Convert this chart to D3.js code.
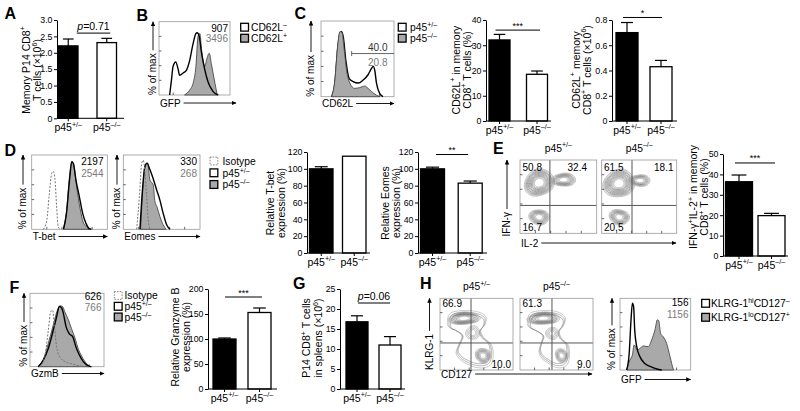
<!DOCTYPE html>
<html><head><meta charset="utf-8">
<script src="https://cdn.jsdelivr.net/npm/d3@7"></script>
<style>body{margin:0;background:#fff}svg{display:block}</style>
</head><body><svg id="c" width="800" height="411"></svg>
<script>
// ---------------- DATA ----------------
const groups = ["p45+/–", "p45–/–"];
// bar charts
const memP14Vals = [2.21, 2.31], memP14Errs = [0.21, 0.13];
const cd62lPctVals = [32.1, 18.5], cd62lPctErrs = [2.2, 1.3];
const cd62lNumVals = [0.70, 0.43], cd62lNumErrs = [0.08, 0.05];
const tbetVals = [100, 115], tbetErrs = [2.5, 0];
const eomesVals = [100, 83], eomesErrs = [2, 2.5];
const ifnIl2Vals = [36.4, 19.8], ifnIl2Errs = [3.3, 1.1];
const gzmbVals = [100, 153], gzmbErrs = [2, 9];
const p14SpleenVals = [16.8, 11.0], p14SpleenErrs = [1.5, 2.1];
// tick labels
const aTicks = [0, 0.5, 1, 1.5, 2, 2.5, 3];
const c1Ticks = [0, 10, 20, 30, 40];
const c2Ticks = [0, 0.2, 0.4, 0.6, 0.8];
const dTicks = [0, 20, 40, 60, 80, 100, 120];
const eTicks = [0, 10, 20, 30, 40, 50];
const fTicks = [0, 50, 100, 150, 200];
const gTicks = [0, 5, 10, 15, 20, 25];
// significance
const sigA = {v: 2.6, text: "*{p}=0.71"};
const sigC1 = {v: 36, text: "***"};
const sigC2 = {v: 0.82, text: "*"};
const sigD2 = {v: 117, text: "**"};
const sigE = {v: 45.6, text: "***"};
const sigF = {v: 184, text: "***"};
const sigG = {v: 21.5, text: "*{p}=0.06"};
// histograms: [channel (0-100), % of max]
const bNeg = [[15,0],[17.5,20],[19.8,39],[23.6,45],[27,35],[29,27],[34,30],[38.7,34],[43.4,48],[48,70],[52,84],[53.8,85],[56.6,80],[60,57],[64.6,34],[69,18],[76,5],[83.5,0]];
const bPos = [[36,0],[43.4,7],[48,16],[52,39],[55,80],[57.5,84],[60,61],[64.6,39],[67,48],[70.8,57],[74,41],[78.8,16],[82,0]];
const cHet = [[14.5,0],[19,18],[22.7,62],[26,84],[28,86],[30.5,79],[34,48],[38.6,24],[44,20],[51,18],[57.7,22],[64.5,29],[69,37],[71.4,40],[73.6,35],[76,18],[80.5,4],[85,0]];
const cKo = [[14.5,0],[19,22],[22.7,66],[26,86],[29,84],[31.8,62],[35,35],[39.5,18],[46,11],[53,12],[60,14],[64.5,11],[69,7],[76,2],[80.5,0]];
const tbetIso = [[15.4,0],[20,12.5],[23,44],[26.4,75],[28.6,78],[30.8,67],[33,30],[35,4],[37.4,0]];
const tbetHet = [[42,0],[46,21.5],[50,66],[53,91],[55,89],[58.6,66],[63,44],[67.4,21.5],[71.8,8],[76,1],[79,0]];
const tbetKo = [[42,0],[46,24],[50,71],[53,91],[56,84],[59.5,57],[64,28],[68,10],[72.7,3],[76,0]];
const eomesIso = [[17.4,0],[21,44],[24,89],[26,93],[28,80],[30.4,44],[32.6,12.5],[34.8,0]];
const eomesHet = [[21.7,0],[25,53],[28,84],[31,89],[34.8,80],[38,71],[43.5,53],[47.8,39],[52,21.5],[56.5,6],[61,0]];
const eomesKo = [[22.6,0],[26,62],[29,87],[31.7,89],[34.8,66],[39,60],[41,39],[44,30],[47.8,17],[52,6],[55.7,0]];
const gzmbIso = [[13.5,0],[20,14],[24.8,50],[28,75],[30.6,77],[33,55],[36,27],[40.5,13],[47,7],[56,4],[67.6,1],[74,0]];
const gzmbHet = [[11,0],[18,9],[24.8,25],[31.5,50],[36,68],[39.6,82],[42.8,80],[45,73],[48.6,55],[53,45],[57.7,41],[62,27],[66.7,16],[72,7],[79,1],[83,0]];
const gzmbKo = [[11,0],[18,10],[24.8,32],[31.5,57],[37,77],[40.5,83],[44,82],[47,75],[51.8,64],[56,52],[60.8,39],[65,25],[70,14],[75.7,5],[81,0]];
const hGfpHi = [[9.4,0],[13,23],[15.6,70],[17.5,93],[19.3,88],[20.8,56],[23.6,33],[28,19],[35,9],[42.5,5],[52,1.4],[59,0]];
const hGfpLo = [[9.4,0],[14,14],[17.5,21],[20,35],[24.5,28],[28,30],[33,33.5],[40,32.6],[44.8,42],[49.5,56],[52.8,70],[54.7,69],[57.5,51],[61,46.5],[66,37],[70.8,18.6],[75.5,1],[76,0]];
// MFI labels
const bMfi = ["907", "3496"], cGate = ["40.0", "20.8"], tbetMfi = ["2197", "2544"], eomesMfi = ["330", "268"], gzmbMfi = ["626", "766"], hMfi = ["156", "1156"];
// quadrant percentages
const eHetQ = ["50.8", "32.4", "16.7"], eKoQ = ["61.5", "18.1", "20.5"];
const hHetQ = ["66.9", "10.0"], hKoQ = ["61.3", "9.0"];
// contour populations (data units 0-100)
const eHetPops = [{cx:25,cy:69,rx:19,ry:19,n:11,ph:0.4},{cx:57,cy:73,rx:15,ry:9.5,n:8,ph:1.3},{cx:25,cy:22,rx:12.5,ry:11,n:8,ph:2.1}];
const eKoPops = [{cx:23,cy:68,rx:20,ry:20,n:11,ph:0.9},{cx:51,cy:72,rx:13,ry:8.5,n:7,ph:1.7},{cx:23.5,cy:22,rx:13,ry:11,n:8,ph:2.6}];
const hHetOutline = [[10,68],[13,78],[22,82],[40,83],[55,80],[63,74],[62,64],[56,55],[60,45],[70,36],[73,22],[70,8],[60,3],[48,4],[38,8],[28,14],[22,24],[26,36],[30,48],[20,56],[12,60]];
const hKoOutline = [[10,67],[13,78],[22,82],[40,83],[54,80],[62,73],[60,63],[54,54],[57,44],[66,35],[68,22],[65,8],[56,3],[46,5],[38,10],[30,16],[26,26],[29,38],[31,48],[20,56],[12,60]];
const hHetPops = [{cx:33,cy:72,rx:21,ry:9,n:9,ph:0.5},{cx:45,cy:52,rx:9,ry:10,n:4,ph:1.1},{cx:59,cy:20,rx:10,ry:11,n:7,ph:2.3}];
const hKoPops = [{cx:32,cy:72,rx:21,ry:9,n:9,ph:0.8},{cx:44,cy:51,rx:8,ry:9,n:4,ph:1.6},{cx:57,cy:20,rx:8.5,ry:10,n:6,ph:2.8}];

// ---------------- HELPERS ----------------
const svg = d3.select('#c');
const FF = '"Liberation Sans", Arial, Helvetica, sans-serif';
const defs = svg.append('defs');
defs.append('marker').attr('id','arr').attr('viewBox','0 0 10 10').attr('refX',9).attr('refY',5)
  .attr('markerWidth',5).attr('markerHeight',5).attr('markerUnits','userSpaceOnUse').attr('orient','auto')
  .append('path').attr('d','M0,0.5 L10,5 L0,9.5 Z').attr('fill','#000');

function rich(t, str, fs) {
  const parts = str.split(/(\^\{[^}]*\}|\*\{[^}]*\})/).filter(s => s.length);
  let up = false; const sh = fs * 0.4;
  parts.forEach(p => {
    if (p.startsWith('^{')) {
      const ts = t.append('tspan').attr('font-size', fs * 0.68).text(p.slice(2, -1));
      if (!up) { ts.attr('dy', -sh); up = true; }
    } else {
      const it = p.startsWith('*{');
      const ts = t.append('tspan').text(it ? p.slice(2, -1) : p);
      if (it) ts.attr('font-style', 'italic');
      if (up) { ts.attr('dy', sh); up = false; }
    }
  });
  return t;
}
function txt(x, y, str, fs, o = {}) {
  const t = svg.append('text').attr('x', x).attr('y', y).attr('font-size', fs).attr('font-family', FF).attr('fill', o.fill || '#000');
  if (o.anchor) t.attr('text-anchor', o.anchor);
  if (o.weight) t.attr('font-weight', o.weight);
  if (o.rotate != null) t.attr('transform', `rotate(${o.rotate},${x},${y})`);
  return rich(t, str, fs);
}
const grpLabel = g => g.slice(0, 3) + '^{' + g.slice(3) + '}';
const fmt1 = d => d === 0 ? '0' : d3.format('.1f')(d);

function barPanel(c) {
  const y = d3.scaleLinear().domain([0, c.max]).range([c.y0, c.y1]);
  const x = d3.scaleBand().domain(groups).range([c.L, c.L + c.step + c.w]).paddingInner(1 - c.w / c.step).paddingOuter(0);
  const g = svg.append('g');
  const ax = g.append('g').attr('transform', `translate(${c.x0},0)`)
    .call(d3.axisLeft(y).tickValues(c.ticks).tickFormat(c.fmt || (d => d)).tickSize(3).tickSizeOuter(0));
  ax.attr('font-size', 8.8).attr('font-family', FF);
  ax.select('.domain').attr('stroke-width', 1);
  ax.selectAll('.tick text').attr('x', -4.5);
  const cx = i => x(groups[i]) + x.bandwidth() / 2;
  g.selectAll('rect.bar').data(c.vals).join('rect').attr('class', 'bar')
    .attr('x', (d, i) => x(groups[i])).attr('y', d => y(d)).attr('width', x.bandwidth()).attr('height', d => c.y0 - y(d))
    .attr('fill', (d, i) => i ? '#fff' : '#000').attr('stroke', '#000').attr('stroke-width', 1.3);
  c.vals.forEach((v, i) => {
    const e = c.errs[i]; if (!e) return;
    const cap = x.bandwidth() * 0.55;
    g.append('line').attr('x1', cx(i)).attr('x2', cx(i)).attr('y1', y(v)).attr('y2', y(v + e)).attr('stroke', '#000').attr('stroke-width', 1.2);
    g.append('line').attr('x1', cx(i) - cap / 2).attr('x2', cx(i) + cap / 2).attr('y1', y(v + e)).attr('y2', y(v + e)).attr('stroke', '#000').attr('stroke-width', 1.2);
  });
  g.append('line').attr('x1', c.x0).attr('x2', c.xEnd).attr('y1', c.y0).attr('y2', c.y0).attr('stroke', '#000').attr('stroke-width', 1);
  groups.forEach((gr, i) => {
    g.append('line').attr('x1', cx(i)).attr('x2', cx(i)).attr('y1', c.y0).attr('y2', c.y0 + 3).attr('stroke', '#000');
    txt(cx(i), c.y0 + 12.5, grpLabel(gr), 10.5, {anchor: 'middle'});
  });
  if (c.sig) {
    const sy = y(c.sig.v), x1 = cx(0) + c.so[0], x2 = cx(1) + c.so[1];
    g.append('line').attr('x1', x1).attr('x2', x2).attr('y1', sy).attr('y2', sy).attr('stroke', '#000').attr('stroke-width', 1);
    const isStar = c.sig.text.startsWith('**') || c.sig.text === '*';
    txt((x1 + x2) / 2, sy - (isStar ? 1.5 : 3.5), c.sig.text, isStar ? 9 : 10.5, {anchor: 'middle'});
  }
  c.yl.forEach((s, i) => txt(c.ylx[i] + 3.6, c.ylY, s, 10.5, {anchor: 'middle', rotate: -90}));
}

function frame(b, x, y) {
  svg.append('rect').attr('x', b[0]).attr('y', b[2]).attr('width', b[1] - b[0]).attr('height', b[3] - b[2])
    .attr('fill', 'none').attr('stroke', '#999').attr('stroke-width', 0.8);
  [20, 40, 60, 80].forEach(v => {
    svg.append('line').attr('x1', b[0]).attr('x2', b[0] + 2.5).attr('y1', y(v)).attr('y2', y(v)).attr('stroke', '#444').attr('stroke-width', 0.8);
    svg.append('line').attr('x1', x(v)).attr('x2', x(v)).attr('y1', b[3]).attr('y2', b[3] - 2.5).attr('stroke', '#444').attr('stroke-width', 0.8);
  });
}
function arrowLabels(c) {
  const yt = txt(c.yLabX + 3.4, c.yStart, c.yLabel, 10, {rotate: -90});
  const len = yt.node().getComputedTextLength();
  svg.append('line').attr('x1', c.yLabX).attr('x2', c.yLabX).attr('y1', c.yStart - len - 3).attr('y2', c.yEnd)
    .attr('stroke', '#000').attr('stroke-width', 0.9).attr('marker-end', 'url(#arr)');
  const xt = txt(c.xStart, c.xLabY, c.xLabel, 10);
  const lx = xt.node().getComputedTextLength();
  svg.append('line').attr('x1', c.xStart + lx + 3).attr('x2', c.xEnd).attr('y1', c.xLabY - 3.5).attr('y2', c.xLabY - 3.5)
    .attr('stroke', '#000').attr('stroke-width', 0.9).attr('marker-end', 'url(#arr)');
}
function histPanel(c) {
  const b = c.box;
  const x = d3.scaleLinear().domain([0, 100]).range([b[0], b[1]]);
  const y = d3.scaleLinear().domain([0, 100]).range([b[3], b[2]]);
  frame(b, x, y);
  const line = d3.line().x(d => x(d[0])).y(d => y(d[1])).curve(d3.curveMonotoneX);
  const area = d3.area().x(d => x(d[0])).y0(b[3]).y1(d => y(d[1])).curve(d3.curveMonotoneX);
  c.curves.forEach(cv => {
    if (cv.type === 'fill') svg.append('path').attr('d', area(cv.data)).attr('fill', '#a9a9a9').attr('stroke', '#4a4a4a').attr('stroke-width', 0.9);
    else if (cv.type === 'open') svg.append('path').attr('d', line(cv.data)).attr('fill', 'none').attr('stroke', '#000').attr('stroke-width', 1.4);
    else svg.append('path').attr('d', line(cv.data)).attr('fill', 'none').attr('stroke', '#777').attr('stroke-width', 1).attr('stroke-dasharray', '2,1.5');
  });
  if (c.gate) {
    const gy = y(c.gate.v);
    svg.append('line').attr('x1', x(c.gate.x1)).attr('x2', x(c.gate.x2)).attr('y1', gy).attr('y2', gy).attr('stroke', '#555').attr('stroke-width', 0.9);
    svg.append('line').attr('x1', x(c.gate.x1)).attr('x2', x(c.gate.x1)).attr('y1', gy - 2.5).attr('y2', gy + 2.5).attr('stroke', '#555').attr('stroke-width', 0.9);
  }
  c.nums.forEach((n, i) => txt(c.numX, c.numY[i], n, 10, {anchor: 'end', fill: c.numFill ? c.numFill[i] : (i ? '#7a7a7a' : '#000')}));
  arrowLabels({yLabX: c.yLabX, yStart: b[3], yEnd: b[2], yLabel: '% of max', xStart: b[0] + 1, xLabY: c.xLabY, xLabel: c.xLabel, xEnd: c.xEnd || b[1]});
}
function legend(x, centers, items, tx) {
  items.forEach((it, i) => {
    const r = svg.append('rect').attr('x', x).attr('y', centers[i] - 3.9).attr('width', 7.8).attr('height', 7.8);
    if (it.type === 'dash') r.attr('fill', '#fff').attr('stroke', '#777').attr('stroke-width', 0.9).attr('stroke-dasharray', '1.5,1.2');
    else r.attr('fill', it.type === 'fill' ? '#a9a9a9' : '#fff').attr('stroke', '#000').attr('stroke-width', 1.3);
    txt(tx, centers[i] + 3.9, it.label, 10.3);
  });
}
function contourPanel(c) {
  const b = c.box;
  const x = d3.scaleLinear().domain([0, 100]).range([b[0], b[1]]);
  const y = d3.scaleLinear().domain([0, 100]).range([b[3], b[2]]);
  const id = 'clip' + Math.round(b[0]) + Math.round(b[2]);
  defs.append('clipPath').attr('id', id).append('rect').attr('x', b[0]).attr('y', b[2]).attr('width', b[1] - b[0]).attr('height', b[3] - b[2]);
  const g = svg.append('g').attr('clip-path', `url(#${id})`);
  const line = d3.line().x(d => x(d[0])).y(d => y(d[1])).curve(d3.curveCardinalClosed);
  if (c.outline) {
    const ox = d3.mean(c.outline, d => d[0]), oy = d3.mean(c.outline, d => d[1]);
    [1, 0.93, 0.86].forEach((k, j) => g.append('path').attr('d', line(c.outline.map(p => [ox + (p[0] - ox) * k, oy + (p[1] - oy) * k])))
      .attr('fill', 'none').attr('stroke', j ? '#8a8a8a' : '#a8a8a8').attr('stroke-width', 0.6));
  }
  c.pops.forEach(p => {
    d3.range(p.n).forEach(j => {
      const k = 1 - j * (0.75 / p.n);
      const pts = d3.range(40).map(i => {
        const t = i / 40 * 2 * Math.PI;
        const r = k * (1 + 0.07 * Math.sin(2 * t + p.ph) + 0.04 * Math.cos(3 * t + 2 * p.ph));
        return [p.cx + p.rx * r * Math.cos(t), p.cy + p.ry * r * Math.sin(t)];
      });
      g.append('path').attr('d', line(pts)).attr('fill', 'none').attr('stroke', j < 2 ? '#9a9a9a' : (j < p.n - 2 ? '#6a6a6a' : '#999')).attr('stroke-width', 0.6);
    });
  });
  svg.append('line').attr('x1', x(c.qx)).attr('x2', x(c.qx)).attr('y1', b[2]).attr('y2', b[3]).attr('stroke', '#555').attr('stroke-width', 1);
  svg.append('line').attr('x1', b[0]).attr('x2', b[1]).attr('y1', y(c.qy)).attr('y2', y(c.qy)).attr('stroke', '#555').attr('stroke-width', 1);
  frame(b, x, y);
  txt((b[0] + b[1]) / 2, b[2] - 8.5, c.title, 10.3, {anchor: 'middle'});
  c.nums.forEach(n => txt(n.x, n.y, n.t, 10, {anchor: n.a || 'start'}));
}

// ---------------- PANEL LETTERS ----------------
[['A', 4.5, 18.5], ['B', 136.5, 20.5], ['C', 294.5, 18.5], ['D', 4.5, 155.5], ['E', 493, 153.5], ['F', 9.5, 292.5], ['G', 293, 288.5], ['H', 420, 288.5]]
  .forEach(l => txt(l[1], l[2], l[0], 16, {weight: 'bold'}));

// ---------------- A ----------------
barPanel({x0: 57, xEnd: 124, L: 58.5, step: 38.5, w: 19.5, y0: 118.3, y1: 20, max: 3, ticks: aTicks, fmt: fmt1,
  vals: memP14Vals, errs: memP14Errs, sig: sigA, so: [8.5, 3.5],
  yl: ['Memory P14 CD8^{+}', 'T cells (×10^{6})'], ylx: [26, 37.5], ylY: 70});

// ---------------- B ----------------
histPanel({box: [159, 230, 21.7, 95], curves: [{type: 'fill', data: bPos}, {type: 'open', data: bNeg}],
  nums: bMfi, numX: 228, numY: [31.5, 42], yLabX: 153, xLabY: 106.5, xLabel: 'GFP', xEnd: 236});
legend(240.7, [27.2, 38.2], [{label: 'CD62L^{–}', type: 'open'}, {label: 'CD62L^{+}', type: 'fill'}], 251);

// ---------------- C ----------------
histPanel({box: [321, 394, 21, 96.7], curves: [{type: 'open', data: cHet}, {type: 'fill', data: cKo}],
  gate: {v: 57, x1: 42, x2: 100}, nums: cGate, numX: 387.5, numY: [51, 66], numFill: ['#333', '#7a7a7a'],
  yLabX: 311, xLabY: 107, xLabel: 'CD62L'});
legend(398.3, [27.2, 38.2], [{label: grpLabel(groups[0]), type: 'open'}, {label: grpLabel(groups[1]), type: 'fill'}], 410);
barPanel({x0: 486, xEnd: 551, L: 489, step: 37.5, w: 21, y0: 121, y1: 20, max: 40, ticks: c1Ticks,
  vals: cd62lPctVals, errs: cd62lPctErrs, sig: sigC1, so: [-4, 3],
  yl: ['CD62L^{+} in memory', 'CD8^{+} T cells (%)'], ylx: [456, 467], ylY: 70});
barPanel({x0: 612, xEnd: 677, L: 616, step: 34, w: 22, y0: 121, y1: 20, max: 0.8, ticks: c2Ticks, fmt: fmt1,
  vals: cd62lNumVals, errs: cd62lNumErrs, sig: sigC2, so: [-4, 1],
  yl: ['CD62L^{+} memory', 'CD8^{+} T cells (×10^{6})'], ylx: [576, 587], ylY: 70});

// ---------------- D ----------------
histPanel({box: [31.7, 107.3, 155, 229.3], curves: [{type: 'fill', data: tbetKo}, {type: 'open', data: tbetHet}, {type: 'dash', data: tbetIso}],
  nums: tbetMfi, numX: 103.5, numY: [165, 176.5], yLabX: 23, xLabY: 240, xLabel: 'T-bet'});
histPanel({box: [123.3, 200, 155, 229.3], curves: [{type: 'fill', data: eomesKo}, {type: 'open', data: eomesHet}, {type: 'dash', data: eomesIso}],
  nums: eomesMfi, numX: 197, numY: [165, 176.5], yLabX: 117, xLabY: 240, xLabel: 'Eomes'});
legend(210, [161, 172.8, 184.5], [{label: 'Isotype', type: 'dash'}, {label: grpLabel(groups[0]), type: 'open'}, {label: grpLabel(groups[1]), type: 'fill'}], 222.5);
barPanel({x0: 307, xEnd: 370, L: 309.5, step: 33, w: 23.5, y0: 253, y1: 152, max: 120, ticks: dTicks,
  vals: tbetVals, errs: tbetErrs, yl: ['Relative T-bet', 'expression (%)'], ylx: [270, 281.7], ylY: 203});
barPanel({x0: 418, xEnd: 487, L: 420.5, step: 37.7, w: 24, y0: 253, y1: 152, max: 120, ticks: dTicks,
  vals: eomesVals, errs: eomesErrs, sig: sigD2, so: [3.5, -2], yl: ['Relative Eomes', 'expression (%)'], ylx: [385, 396.7], ylY: 203});

// ---------------- E ----------------
contourPanel({box: [520, 596.7, 160, 233.3], qx: 39, qy: 38, pops: eHetPops, title: grpLabel(groups[0]),
  nums: [{x: 522.5, y: 171, t: eHetQ[0]}, {x: 587, y: 171, t: eHetQ[1], a: 'end'}, {x: 522.5, y: 231, t: eHetQ[2]}]});
contourPanel({box: [601.7, 676.7, 160, 233.3], qx: 40.4, qy: 38, pops: eKoPops, title: grpLabel(groups[1]),
  nums: [{x: 604, y: 171, t: eKoQ[0]}, {x: 673.5, y: 171, t: eKoQ[1], a: 'end'}, {x: 604, y: 231, t: eKoQ[2]}]});
arrowLabels({yLabX: 507, yStart: 236.5, yEnd: 160, yLabel: 'IFN-γ', xStart: 521, xLabY: 246.5, xLabel: 'IL-2', xEnd: 676});
barPanel({x0: 723, xEnd: 788, L: 725.5, step: 32.5, w: 27, y0: 256, y1: 154, max: 50, ticks: eTicks,
  vals: ifnIl2Vals, errs: ifnIl2Errs, sig: sigE, so: [-4, 3.5],
  yl: ['IFN-γ^{+}IL-2^{+} in memory', 'CD8^{+} T cells (%)'], ylx: [693.5, 704.5], ylY: 197});

// ---------------- F ----------------
histPanel({box: [30, 104, 293.3, 366.7], curves: [{type: 'fill', data: gzmbKo}, {type: 'open', data: gzmbHet}, {type: 'dash', data: gzmbIso}],
  nums: gzmbMfi, numX: 101.5, numY: [299.5, 310.5], yLabX: 24, xLabY: 377, xLabel: 'GzmB'});
legend(114.3, [295.5, 306.3, 317], [{label: 'Isotype', type: 'dash'}, {label: grpLabel(groups[0]), type: 'open'}, {label: grpLabel(groups[1]), type: 'fill'}], 124.5);
barPanel({x0: 208, xEnd: 277, L: 213, step: 35, w: 23, y0: 389, y1: 289, max: 200, ticks: fTicks,
  vals: gzmbVals, errs: gzmbErrs, sig: sigF, so: [0.5, 2.5], yl: ['Relative Granzyme B', 'expression (%)'], ylx: [175, 186.7], ylY: 337});

// ---------------- G ----------------
barPanel({x0: 340, xEnd: 405, L: 346, step: 33, w: 22, y0: 389, y1: 289, max: 25, ticks: gTicks,
  vals: p14SpleenVals, errs: p14SpleenErrs, sig: sigG, so: [1, 0], yl: ['P14 CD8^{+} T cells', 'in spleens (×10^{6})'], ylx: [306.7, 318.3], ylY: 338});

// ---------------- H ----------------
contourPanel({box: [440, 513, 298.3, 370], qx: 42.5, qy: 37.7, pops: hHetPops, outline: hHetOutline, title: grpLabel(groups[0]),
  nums: [{x: 442.5, y: 307, t: hHetQ[0]}, {x: 511, y: 368, t: hHetQ[1], a: 'end'}]});
contourPanel({box: [520, 593, 298.3, 370], qx: 43.8, qy: 37.7, pops: hKoPops, outline: hKoOutline, title: grpLabel(groups[1]),
  nums: [{x: 522.5, y: 307, t: hKoQ[0]}, {x: 591, y: 368, t: hKoQ[1], a: 'end'}]});
arrowLabels({yLabX: 429.5, yStart: 370, yEnd: 298.3, yLabel: 'KLRG-1', xStart: 441, xLabY: 377.5, xLabel: 'CD127', xEnd: 592});
histPanel({box: [620, 690.7, 298.3, 370], curves: [{type: 'fill', data: hGfpLo}, {type: 'open', data: hGfpHi}],
  nums: hMfi, numX: 688.5, numY: [306, 317.5], yLabX: 612, xLabY: 383, xLabel: 'GFP'});
legend(701.7, [303.3, 317.3], [{label: 'KLRG-1^{hi}CD127^{–}', type: 'open'}, {label: 'KLRG-1^{lo}CD127^{+}', type: 'fill'}], 711);
</script></body></html>
